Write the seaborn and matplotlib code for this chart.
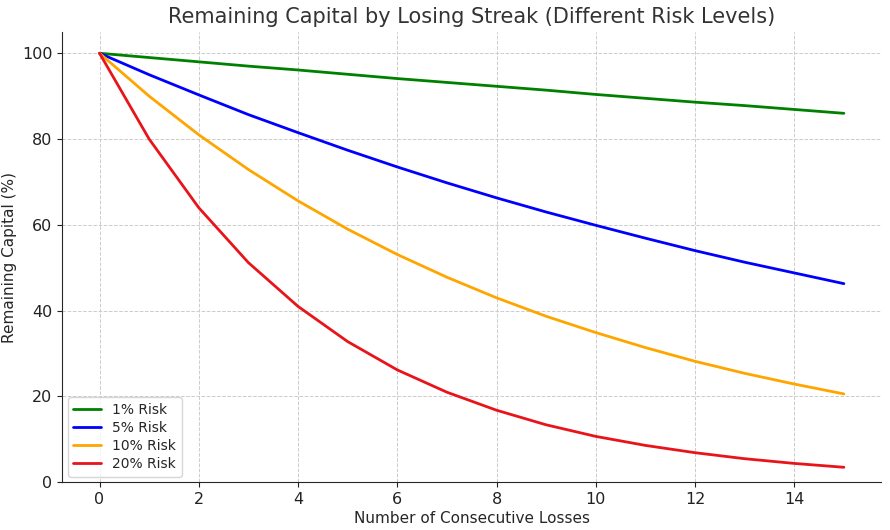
import numpy as np
import pandas as pd
import matplotlib
matplotlib.use('Agg')
import matplotlib.pyplot as plt
import seaborn as sns

losses = list(range(16))
risk_1 = [100, 99.0, 98.0, 97.0, 96.1, 95.1, 94.1, 93.2, 92.3, 91.4, 90.4, 89.5, 88.6, 87.8, 86.9, 86.0]
risk_5 = [100, 95.0, 90.3, 85.7, 81.5, 77.4, 73.5, 69.8, 66.3, 63.0, 59.9, 56.9, 54.0, 51.3, 48.8, 46.3]
risk_10 = [100, 90.0, 81.0, 72.9, 65.6, 59.0, 53.1, 47.8, 43.0, 38.7, 34.9, 31.4, 28.2, 25.4, 22.9, 20.6]
risk_20 = [100, 80.0, 64.0, 51.2, 41.0, 32.8, 26.2, 21.0, 16.8, 13.4, 10.7, 8.6, 6.9, 5.5, 4.4, 3.5]
labels = ['1% Risk', '5% Risk', '10% Risk', '20% Risk']
colors = ['green', 'blue', 'orange', '#e8141a']

df = pd.DataFrame({'Losses': losses * 4,
                   'Capital': risk_1 + risk_5 + risk_10 + risk_20,
                   'Risk': [l for l in labels for _ in losses]})

sns.set_style('ticks')
plt.rcParams['font.family'] = ['DejaVu Sans']

fig, ax = plt.subplots(figsize=(8.9, 5.3), dpi=100)
sns.lineplot(data=df, x='Losses', y='Capital', hue='Risk', hue_order=labels,
             palette=colors, lw=2, ax=ax)

ax.grid(True, ls='--', lw=0.7, color='#cccccc')
ax.set_ylim(0, 105)
ax.set_xticks([0, 2, 4, 6, 8, 10, 12, 14])
ax.set_yticks([0, 20, 40, 60, 80, 100])
ax.tick_params(labelsize=11.5, colors='#222222')
ax.set_title('Remaining Capital by Losing Streak (Different Risk Levels)', fontsize=15, color='#333333')
ax.set_xlabel('Number of Consecutive Losses', fontsize=11, labelpad=3)
ax.set_ylabel('Remaining Capital (%)', fontsize=11, labelpad=4)
sns.despine()
ax.legend(loc='lower left', fontsize=10, title=None, handlelength=2.0,
          labelspacing=0.3, borderaxespad=0.4)

plt.subplots_adjust(left=0.07, right=0.99, top=0.94, bottom=0.09)
fig.savefig('out.png')
